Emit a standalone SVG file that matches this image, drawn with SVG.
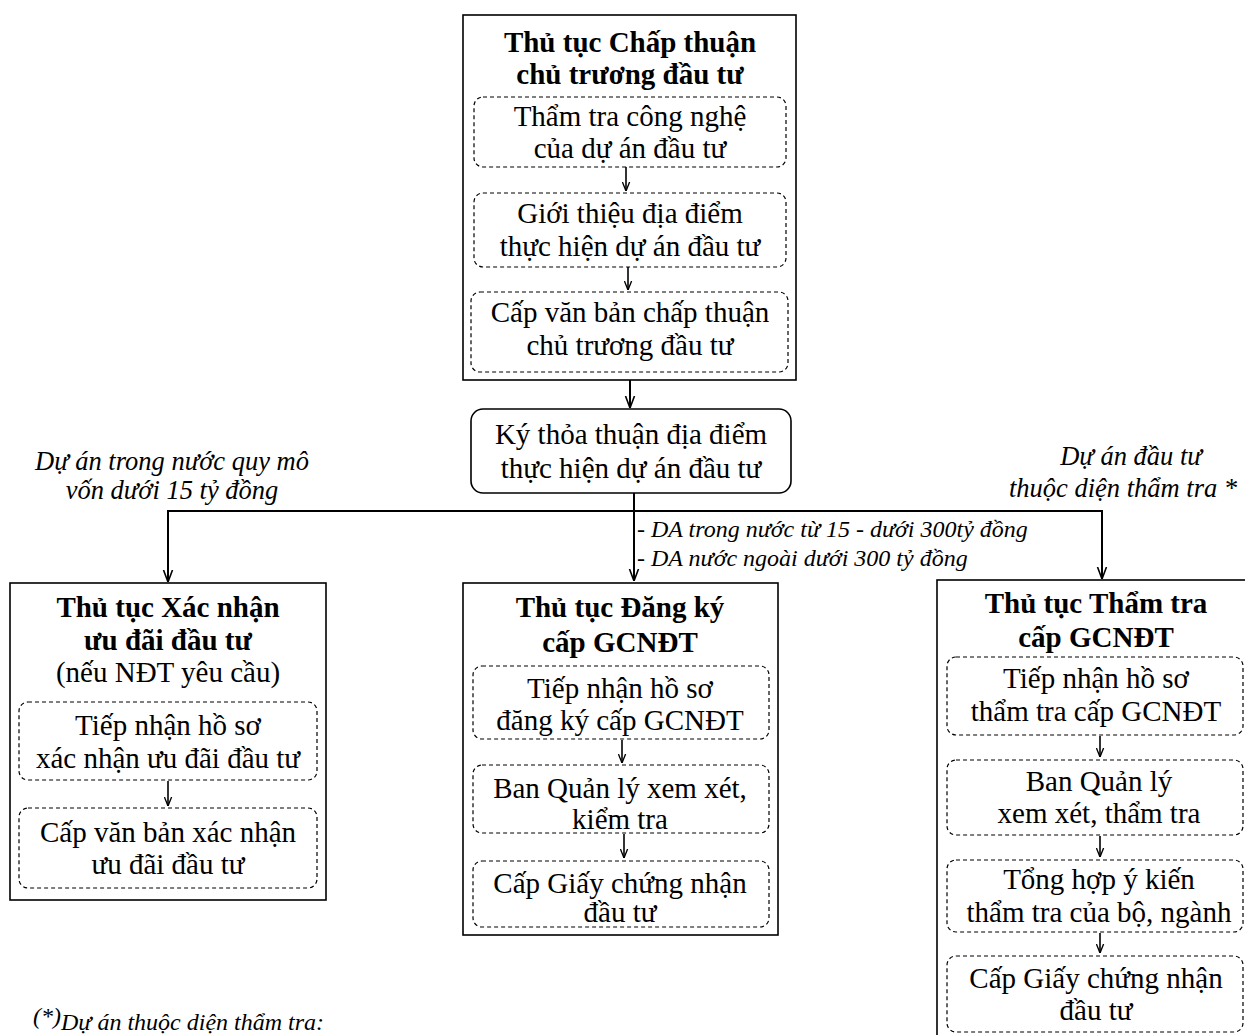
<svg xmlns="http://www.w3.org/2000/svg" width="1245" height="1035" viewBox="0 0 1245 1035">
<defs>
<style>
text{font-family:"Liberation Serif","Times New Roman",serif;fill:#000;}
.t{font-size:29px;text-anchor:middle;}
.b{font-size:29px;font-weight:bold;text-anchor:middle;}
.i{font-size:24px;font-style:italic;}
.il{font-size:26.5px;font-style:italic;text-anchor:middle;}
.box{fill:#fff;stroke:#000;stroke-width:1.6;}
.dash{fill:none;stroke:#000;stroke-width:1.2;stroke-dasharray:4 3;}
.c{fill:none;stroke:#000;stroke-width:2;}
.s{fill:none;stroke:#000;stroke-width:1.6;}
</style>
<marker id="arr" viewBox="0 0 12 12" refX="12" refY="6" markerWidth="12" markerHeight="12" markerUnits="userSpaceOnUse" orient="auto">
<path d="M0,1.5 L12,6 L0,10.5" fill="none" stroke="#000" stroke-width="1.6"/>
</marker>
<marker id="sarr" viewBox="0 0 10 10" refX="10" refY="5" markerWidth="9" markerHeight="9" markerUnits="userSpaceOnUse" orient="auto">
<path d="M0,1 L10,5 L0,9" fill="none" stroke="#000" stroke-width="1.5"/>
</marker>
</defs>
<rect width="1245" height="1035" fill="#fff"/>

<g id="node-chapthuan">
<rect class="box" x="463" y="15" width="333" height="365"/>
<text class="b" x="630" y="52">Thủ tục Chấp thuận</text>
<text class="b" x="630" y="84">chủ trương đầu tư</text>
<rect class="dash" x="474" y="97" width="312" height="70" rx="9"/>
<text class="t" x="630" y="126">Thẩm tra công nghệ</text>
<text class="t" x="630" y="158">của dự án đầu tư</text>
<rect class="dash" x="474" y="193" width="312" height="74" rx="9"/>
<text class="t" x="630" y="223">Giới thiệu địa điểm</text>
<text class="t" x="630" y="256">thực hiện dự án đầu tư</text>
<rect class="dash" x="471" y="292" width="317" height="80" rx="9"/>
<text class="t" x="630" y="322">Cấp văn bản chấp thuận</text>
<text class="t" x="630" y="355">chủ trương đầu tư</text>
<line class="s" x1="626" y1="167" x2="626" y2="191" marker-end="url(#sarr)"/>
<line class="s" x1="628" y1="267" x2="628" y2="290" marker-end="url(#sarr)"/>
</g>

<g id="node-kythoathuan">
<rect class="box" x="471" y="409" width="320" height="84" rx="12"/>
<text class="t" x="631" y="444">Ký thỏa thuận địa điểm</text>
<text class="t" x="631" y="478">thực hiện dự án đầu tư</text>
</g>

<g id="node-xacnhan">
<rect class="box" x="10" y="583" width="316" height="317"/>
<text class="b" x="168" y="617">Thủ tục Xác nhận</text>
<text class="b" x="168" y="650">ưu đãi đầu tư</text>
<text class="t" x="168" y="682">(nếu NĐT yêu cầu)</text>
<rect class="dash" x="19" y="702" width="298" height="78" rx="9"/>
<text class="t" x="168" y="735">Tiếp nhận hồ sơ</text>
<text class="t" x="168" y="768">xác nhận ưu đãi đầu tư</text>
<line class="s" x1="168" y1="781" x2="168" y2="806" marker-end="url(#sarr)"/>
<rect class="dash" x="19" y="808" width="298" height="80" rx="9"/>
<text class="t" x="168" y="842">Cấp văn bản xác nhận</text>
<text class="t" x="168" y="874">ưu đãi đầu tư</text>
</g>

<g id="node-dangky">
<rect class="box" x="463" y="583" width="315" height="352"/>
<text class="b" x="620" y="617">Thủ tục Đăng ký</text>
<text class="b" x="620" y="652">cấp GCNĐT</text>
<rect class="dash" x="473" y="666" width="296" height="73" rx="9"/>
<text class="t" x="620" y="698">Tiếp nhận hồ sơ</text>
<text class="t" x="620" y="730">đăng ký cấp GCNĐT</text>
<line class="s" x1="622" y1="740" x2="622" y2="763" marker-end="url(#sarr)"/>
<rect class="dash" x="473" y="765" width="296" height="68" rx="9"/>
<text class="t" x="620" y="798">Ban Quản lý xem xét,</text>
<text class="t" x="620" y="829">kiểm tra</text>
<line class="s" x1="624" y1="834" x2="624" y2="858" marker-end="url(#sarr)"/>
<rect class="dash" x="473" y="861" width="296" height="66" rx="9"/>
<text class="t" x="620" y="893">Cấp Giấy chứng nhận</text>
<text class="t" x="620" y="922">đầu tư</text>
</g>

<g id="node-thamtra">
<rect class="box" x="937" y="580" width="318" height="470"/>
<text class="b" x="1096" y="613">Thủ tục Thẩm tra</text>
<text class="b" x="1096" y="647">cấp GCNĐT</text>
<rect class="dash" x="947" y="657" width="296" height="78" rx="9"/>
<text class="t" x="1096" y="688">Tiếp nhận hồ sơ</text>
<text class="t" x="1096" y="721">thẩm tra cấp GCNĐT</text>
<line class="s" x1="1100" y1="736" x2="1100" y2="757" marker-end="url(#sarr)"/>
<rect class="dash" x="947" y="760" width="296" height="75" rx="9"/>
<text class="t" x="1099" y="791">Ban Quản lý</text>
<text class="t" x="1099" y="823">xem xét, thẩm tra</text>
<line class="s" x1="1100" y1="836" x2="1100" y2="857" marker-end="url(#sarr)"/>
<rect class="dash" x="947" y="860" width="296" height="72" rx="9"/>
<text class="t" x="1099" y="889">Tổng hợp ý kiến</text>
<text class="t" x="1099" y="922">thẩm tra của bộ, ngành</text>
<line class="s" x1="1100" y1="933" x2="1100" y2="953" marker-end="url(#sarr)"/>
<rect class="dash" x="947" y="956" width="296" height="76" rx="9"/>
<text class="t" x="1096" y="988">Cấp Giấy chứng nhận</text>
<text class="t" x="1096" y="1020">đầu tư</text>
</g>

<g id="connectors">
<line class="c" x1="630" y1="380" x2="630" y2="408" marker-end="url(#arr)"/>
<line class="c" x1="634" y1="493" x2="634" y2="581" marker-end="url(#arr)"/>
<polyline class="c" points="1102,511 168,511 168,582" marker-end="url(#arr)"/>
<line class="c" x1="1102" y1="510" x2="1102" y2="579" marker-end="url(#arr)"/>
</g>

<g id="labels">
<text class="il" x="172" y="470">Dự án trong nước quy mô</text>
<text class="il" x="172" y="499">vốn dưới 15 tỷ đồng</text>
<text class="il" x="1131" y="465">Dự án đầu tư</text>
<text class="il" x="1123" y="497">thuộc diện thẩm tra *</text>
<text class="i" x="637" y="537">- DA trong nước từ 15 - dưới 300tỷ đồng</text>
<text class="i" x="637" y="566">- DA nước ngoài dưới 300 tỷ đồng</text>
<text class="i" x="33" y="1024" font-size="15">(*)</text>
<text class="i" x="61" y="1030" font-size="24.5">Dự án thuộc diện thẩm tra:</text>
</g>
</svg>
